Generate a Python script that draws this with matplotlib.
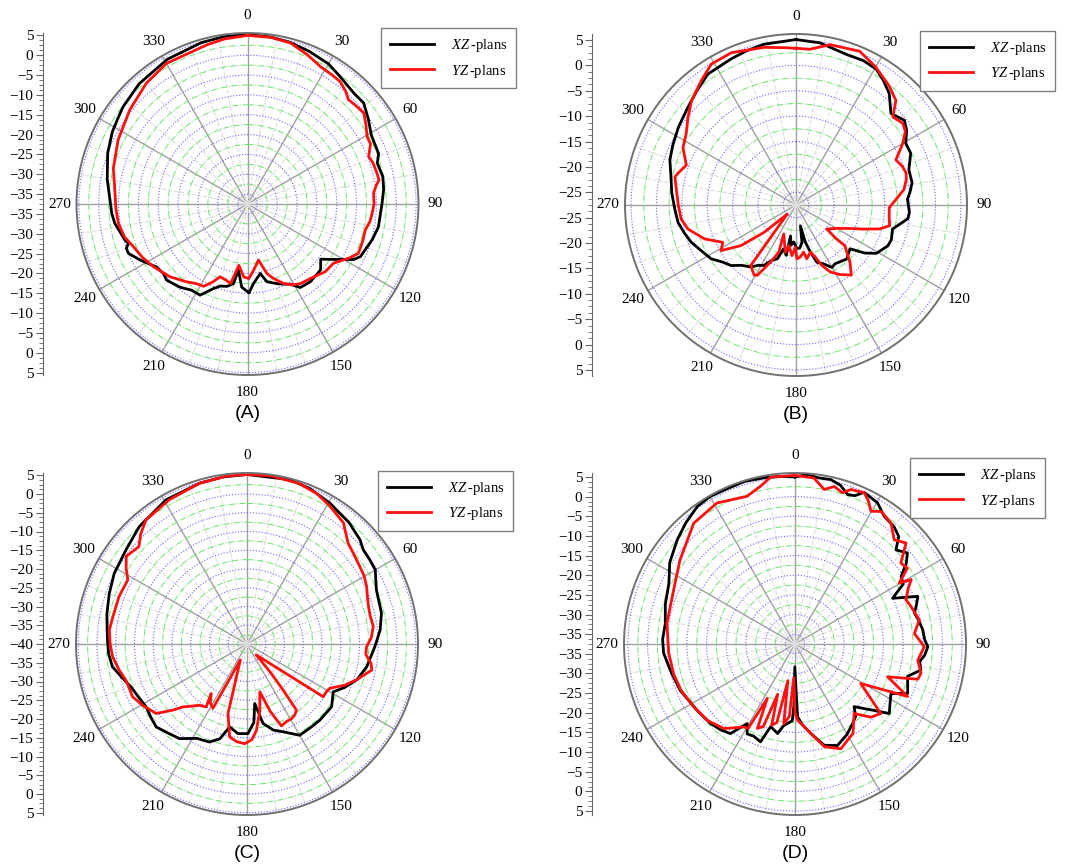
import numpy as np
import matplotlib.pyplot as plt
from matplotlib.ticker import MultipleLocator, FixedLocator, AutoMinorLocator

plt.rcParams['font.family'] = 'Liberation Serif'
plt.rcParams['mathtext.fontset'] = 'custom'
plt.rcParams['mathtext.it'] = 'Liberation Serif:italic'
plt.rcParams['mathtext.rm'] = 'Liberation Serif'

# ---- panel A ----
a_xz_deg = [0, 8, 15, 22, 30, 36, 44, 49, 55, 61, 69, 72.5, 78.6, 84, 90, 94, 100, 106, 110, 115, 117.6,
            122.8, 127, 132, 141, 147.7, 152, 158.8, 166, 169.6, 175.7, 179, 184, 187.8, 190, 194, 198.4,
            202, 207.5, 213, 219, 226.7, 230.5, 235.3, 242.4, 247.5, 250, 251.7, 253.6, 261.7, 266, 272,
            280, 290, 298, 303, 308, 318, 331, 344, 352, 360]
a_xz_db = [5.2, 5.0, 4.6, 4.0, 3.3, 2.2, 1.2, 1.3, -0.3, -1.8, -2.1, -3.2, -2.7, -3.0, -3.6, -3.9, -4.0, -4.8,
           -5.5, -6.1, -7.3, -11.7, -14.4, -12.7, -12.3, -12.6, -14.6, -15.9, -17.3, -19.7, -17.4, -15.1,
           -16.5, -20.7, -17.1, -16.1, -15.7, -14.5, -11.6, -11.6, -10.5, -9.5, -10.0, -9.6, -7.0, -5.0,
           -5.0, -5.9, -5.3, -3.7, -3.2, -2.8, -1.6, 0.0, 1.1, 1.6, 2.3, 3.3, 4.2, 4.8, 5.1, 5.2]
a_yz_deg = [0, 8, 15, 22, 28, 33, 37, 41, 44, 48, 52, 56, 60.6, 64, 68.6, 72, 76, 79.6, 82, 85, 90, 94.3,
            98, 102.5, 108, 114, 118, 124.6, 131, 137.8, 146.4, 151, 155.6, 160.7, 164.4, 168.9, 174.8,
            179, 183, 188, 192, 196, 200.6, 204, 208, 213, 218, 226.8, 236.3, 243, 249.5, 255, 261.5, 268,
            274.6, 285, 296.4, 308.7, 320, 330, 345.7, 352, 360]
a_yz_db = [5.0, 4.9, 4.5, 3.0, 1.7, 1.4, 1.2, 0.2, -0.9, -0.6, -0.3, -1.5, -2.9, -3.0, -4.7, -4.2, -4.0, -3.8,
           -4.8, -5.6, -5.6, -6.0, -6.3, -7.1, -7.0, -6.9, -8.5, -11.2, -11.5, -12.7, -13.4, -14.2, -15.5,
           -17.6, -19.3, -23.1, -20.7, -18.7, -19.1, -21.9, -17.0, -17.6, -17.9, -16.0, -14.0, -13.6,
           -12.6, -10.7, -9.0, -7.8, -6.8, -5.4, -4.6, -4.3, -4.0, -2.5, -1.1, 0.5, 2.2, 3.4, 3.9, 4.5, 5.0]

# ---- panel B ----
b_xz_deg = [0, 8.4, 18.5, 25, 30.5, 35, 40, 46, 52, 56, 60.7, 65.7, 72.7, 79, 83, 87, 93.8, 97, 104, 110,
            114, 121, 125, 129, 136.8, 146.5, 150, 155, 160, 163, 166, 168, 171, 175, 178.7, 183.5, 187,
            190, 191, 196, 199, 204, 208, 212, 216, 222, 227, 232, 237.6, 244, 250.4, 256, 261.6, 268,
            275.6, 283, 289.7, 296, 303.6, 312, 319, 326, 336, 342, 348.7, 360]
b_xz_db = [5.1, 4.8, 3.8, 3.9, 3.6, 2.5, 1.1, -1.5, -0.4, -1.2, -2.7, -2.7, -4.2, -4.2, -4.8, -5.5, -5.1,
           -5.3, -7.9, -7.5, -7.7, -9.0, -11.0, -13.8, -12.9, -13.6, -13.3, -14.7, -15.5, -17.8, -20.0,
           -23.3, -20.0, -19.0, -18.9, -20.2, -19.5, -21.3, -17.4, -18.5, -16.3, -15.5, -14.0, -13.5,
           -12.4, -11.5, -10.0, -9.2, -7.7, -6.8, -5.6, -4.8, -4.0, -3.6, -2.9, -2.2, -1.1, -0.5, 0.3, 1.2,
           2.3, 3.6, 4.0, 4.4, 4.8, 5.1]
b_yz_deg = [0, 5, 12, 22.5, 30, 38, 43.7, 47.7, 52.6, 56, 60, 65.7, 70, 73.8, 77, 81.8, 86, 91.6, 97,
            102.5, 106, 109.8, 113.5, 120, 128, 130, 129.7, 136.7, 141.7, 147.8, 153, 156.9, 159.8, 163,
            168.6, 170.9, 175.3, 179, 180.9, 184.5, 190, 192.6, 203, 200, 204, 208.8, 210.8, 216.8, 224,
            229.4, 233.6, 238.7, 243, 249.6, 257.4, 263, 270, 283, 285, 290, 297, 303, 309, 315, 322.7,
            329, 337, 348.5, 355.6, 360]
b_yz_db = [3.4, 3.3, 4.8, 5.3, 3.9, 2.3, 1.0, -1.7, -1.0, -1.5, -3.2, -5.9, -5.2, -4.9, -5.2, -6.0, -7.5,
           -9.1, -9.0, -8.6, -10.4, -13.5, -15.9, -18.3, -19.8, -17.1, -15.0, -12.0, -9.9, -11.3, -12.7,
           -14.6, -16.6, -17.8, -16.7, -18.1, -17.2, -16.9, -19.2, -17.5, -19.4, -17.9, -21.3, -17.6,
           -15.2, -11.7, -11.4, -12.6, -25.0, -19.2, -14.0, -10.2, -11.3, -8.3, -5.7, -4.7, -4.3, -3.0,
           -3.4, -4.5, -2.5, -1.7, -0.1, 1.6, 3.3, 4.9, 5.1, 4.2, 3.6, 3.4]

# ---- panel C ----
c_xz_deg = [0, 14.6, 22, 30.4, 40, 47.3, 51, 55.6, 60, 67.3, 77, 84, 91.2, 100.8, 108, 114, 119, 126.6,
            136.3, 143, 150, 157.7, 163, 168.6, 172.6, 175, 179.4, 185.8, 191.8, 196, 201, 208, 215.5,
            222, 227.6, 233, 238, 244, 249.7, 255, 260.4, 266, 273, 282, 290, 298, 308, 317.5, 330.7,
            343.6, 352, 360]
c_xz_db = [5.2, 5.3, 4.7, 3.6, 2.3, 1.0, -0.1, -0.3, -0.5, -2.6, -3.2, -4.3, -5.9, -7.5, -9.2, -11.5,
           -13.7, -11.9, -11.9, -12.0, -11.9, -14.7, -16.0, -18.4, -24.0, -19.0, -16.1, -16.0, -17.4,
           -13.7, -12.0, -11.5, -9.0, -8.2, -7.2, -7.8, -8.3, -7.8, -7.0, -5.5, -3.6, -3.0, -2.7, -1.8,
           -0.9, 0.1, 0.9, 2.5, 4.1, 4.7, 5.0, 5.2]
c_yz_deg = [0, 8, 18, 25, 31, 38.5, 45, 50, 55.5, 60, 64.3, 68, 72.9, 77, 82, 87, 91.3, 95, 99, 101.8,
            105, 108, 113, 118.2, 121, 124.7, 139.7, 140.5, 142, 143.2, 146, 149.2, 153, 157.2, 161, 165,
            169, 173.8, 177, 181.3, 186, 190.6, 195.3, 202.6, 207.9, 212, 215.9, 213, 217.8, 225.6, 228.3,
            232.6, 239.6, 245.2, 253.4, 258.5, 264.6, 270, 275.8, 281.5, 290.4, 298.3, 302, 306, 312, 316,
            320.9, 331.8, 343.6, 353, 360]
c_yz_db = [5.2, 5.3, 5.0, 4.2, 2.9, 1.3, -1.9, -2.8, -3.5, -3.9, -4.6, -5.4, -6.1, -6.3, -6.0, -6.8, -8.1,
           -8.2, -6.5, -6.0, -7.8, -9.2, -11.8, -15.0, -15.3, -15.3, -36.2, -30.0, -24.0, -18.0, -17.2,
           -16.8, -16.8, -16.3, -21.0, -26.8, -22.0, -16.8, -14.5, -13.4, -13.8, -14.8, -20.8, -35.4,
           -20.6, -21.5, -23.7, -20.0, -19.3, -16.0, -13.5, -9.5, -7.7, -6.4, -6.3, -5.2, -4.0, -3.5,
           -3.1, -3.5, -3.6, -3.9, -2.0, -0.2, -1.2, 0.8, 2.7, 3.7, 4.7, 5.1, 5.2]

# ---- panel D ----
d_xz_deg = [0, 4, 8, 12.3, 16, 19.4, 22, 24.5, 30.3, 35, 40, 44, 47, 51, 54, 57.5, 61, 64.9, 68.8, 72,
            75.5, 79, 83.7, 88, 91.2, 95, 98, 101.7, 106, 110, 113.7, 117.3, 122, 126.4, 130, 136.7, 140,
            144.1, 150, 157.3, 163.9, 170, 175, 178, 180.5, 181, 182, 188, 191, 196.4, 199.4, 204, 208,
            211, 215.8, 221, 226.7, 236, 248, 258, 266, 272, 279, 287, 295.7, 303, 311.5, 318, 324.6, 330,
            336, 342.7, 350, 355, 360]
d_xz_db = [5.0, 5.7, 5.2, 5.3, 4.5, 2.8, 3.2, 4.9, 4.1, 2.1, 1.6, 0.5, -2.4, -0.7, -2.5, -5.5, -6.0, -10.1,
           -4.0, -5.0, -6.1, -5.5, -4.8, -4.5, -3.7, -4.4, -5.5, -4.8, -7.7, -7.0, -6.2, -10.0, -9.0, -7.7,
           -11.2, -15.6, -13.5, -12.5, -11.0, -9.5, -10.7, -14.4, -17.0, -19.0, -31.7, -22.0, -18.0,
           -16.5, -14.3, -15.6, -11.1, -11.8, -11.6, -13.9, -9.4, -8.6, -8.0, -7.4, -6.0, -5.1, -4.0,
           -3.8, -4.1, -3.0, -1.9, 0.5, 2.5, 4.0, 5.4, 5.8, 5.6, 5.8, 5.5, 5.3, 5.0]
d_yz_deg = [0, 6.5, 10.7, 14, 17.4, 19.9, 24.6, 27, 29.8, 33, 38.4, 43.6, 47.7, 52.6, 56, 59.7, 61, 64,
            68.3, 72, 79, 85, 91.2, 97.5, 103, 106, 109.5, 115, 121, 129, 134, 139.6, 147, 156.4, 164, 170,
            178, 180, 182, 184.5, 188, 191, 193, 196, 199, 201, 204, 207, 209, 211.7, 220, 229, 238, 248,
            256, 265.8, 279, 294, 306, 320, 331, 342, 347.7, 351.7, 360]
d_yz_db = [5.4, 5.0, 2.5, 3.8, 2.8, 4.3, 4.8, 3.5, 1.4, 2.7, 1.8, -0.9, 0.7, -3.6, -3.0, -6.8, -3.7, -5.5,
           -7.1, -6.5, -5.3, -7.0, -4.6, -6.0, -4.6, -5.0, -12.5, -5.9, -18.0, -9.4, -10.7, -14.3, -10.4,
           -8.4, -10.3, -14.4, -18.1, -20.0, -29.0, -19.0, -17.0, -28.0, -17.0, -16.0, -24.0, -15.0, -14.0,
           -22.0, -13.0, -12.7, -9.4, -7.9, -7.2, -6.2, -5.7, -5.3, -4.5, -3.7, -1.3, 2.6, 3.5, 2.0, 3.6,
           5.4, 5.4]

tick_angles = list(range(0, 360, 30))

W, H = 1065, 868
fig = plt.figure(figsize=(W / 100, H / 100), dpi=100)


def draw_panel(cx, cy, R, rmin, rmax, xz, yz, tag, spine_x, leg_xy):
    ax = fig.add_axes([(cx - R) / W, 1 - (cy + R) / H, 2 * R / W, 2 * R / H], projection='polar')
    ax.set_theta_zero_location('N')
    ax.set_theta_direction(-1)
    ax.set_ylim(rmin, rmax)
    ax.set_xticks(np.deg2rad(tick_angles))
    ax.set_xticklabels([])
    ax.xaxis.set_minor_locator(FixedLocator(np.deg2rad(np.arange(0, 360, 10))))
    ax.yaxis.set_major_locator(MultipleLocator(5))
    ax.yaxis.set_minor_locator(MultipleLocator(2.5))
    ax.set_yticklabels([])
    ax.tick_params(axis='y', which='both', length=0)
    ax.tick_params(axis='x', which='both', direction='in', length=4, color='#666666')
    ax.xaxis.grid(True, which='major', color='#a0a0a0', lw=1.0, ls='-')
    ax.xaxis.grid(True, which='minor', color='#dddddd', lw=0.8, ls='--')
    ax.yaxis.grid(True, which='major', color='#6a6aff', lw=0.8, ls=':')
    ax.yaxis.grid(True, which='minor', color='#70e070', lw=0.7, ls='-.')
    ax.spines['polar'].set_color('#707070')
    ax.spines['polar'].set_linewidth(1.4)

    ax.plot(np.deg2rad(xz[0]), xz[1], color='black', lw=2, label=r'$XZ\,$-plans')
    ax.plot(np.deg2rad(yz[0]), yz[1], color='#ff1010', lw=2, label=r'$YZ\,$-plans')

    for ang in tick_angles:
        t = np.deg2rad(ang)
        ax.text(0.5 + 0.55 * np.sin(t), 0.5 + 0.55 * np.cos(t), str(ang), transform=ax.transAxes,
                ha='center', va='center', fontsize=11)

    # the mirrored dB scale on the left
    span = rmax - rmin
    sax = fig.add_axes([spine_x / W, 1 - (cy + R) / H, 0.0005, 2 * R / H])
    sax.patch.set_visible(False)
    for s in ['top', 'right', 'bottom']:
        sax.spines[s].set_visible(False)
    sax.spines['left'].set_color('#666666')
    sax.set_xticks([])
    sax.set_ylim(-span, span)
    vals = np.arange(5, rmin, -5)
    pos = list(vals - rmin) + list(-(vals - rmin))
    labs = [str(int(v)).replace('-', '\u2212') for v in vals] * 2
    if rmin % 5 == 0:
        pos.append(0)
        labs.append(str(int(rmin)).replace('-', '\u2212'))
    sax.set_yticks(pos)
    sax.set_yticklabels(labs)
    sax.yaxis.set_minor_locator(AutoMinorLocator(4))
    sax.tick_params(axis='y', which='major', direction='out', length=5, color='#666666', labelsize=11, pad=2)
    sax.tick_params(axis='y', which='minor', direction='out', length=3, color='#666666')

    leg = ax.legend(loc='upper left', bbox_to_anchor=(leg_xy[0] / W, 1 - leg_xy[1] / H),
                    bbox_transform=fig.transFigure, fancybox=False, edgecolor='#808080', fontsize=10.5,
                    handlelength=3, handletextpad=1.2, borderpad=0.6, labelspacing=0.6, framealpha=1,
                    borderaxespad=0)
    leg.get_frame().set_linewidth(1.0)

    fig.text(cx / W, 1 - (cy + 210) / H, tag, ha='center', va='center', fontsize=14, family='Liberation Sans')


draw_panel(247.5, 204, 171, -37.5, 5.6, (a_xz_deg, a_xz_db), (a_yz_deg, a_yz_db), '(A)', 43, (381, 28))
draw_panel(796, 205, 171, -27.5, 6.2, (b_xz_deg, b_xz_db), (b_yz_deg, b_yz_db), '(B)', 592, (920, 31))
draw_panel(247, 644, 171, -40, 5.6, (c_xz_deg, c_xz_db), (c_yz_deg, c_yz_db), '(C)', 43, (378, 471))
draw_panel(795, 644, 171, -37.5, 6.0, (d_xz_deg, d_xz_db), (d_yz_deg, d_yz_db), '(D)', 592, (910, 458))

fig.savefig('out.png', dpi=100)
